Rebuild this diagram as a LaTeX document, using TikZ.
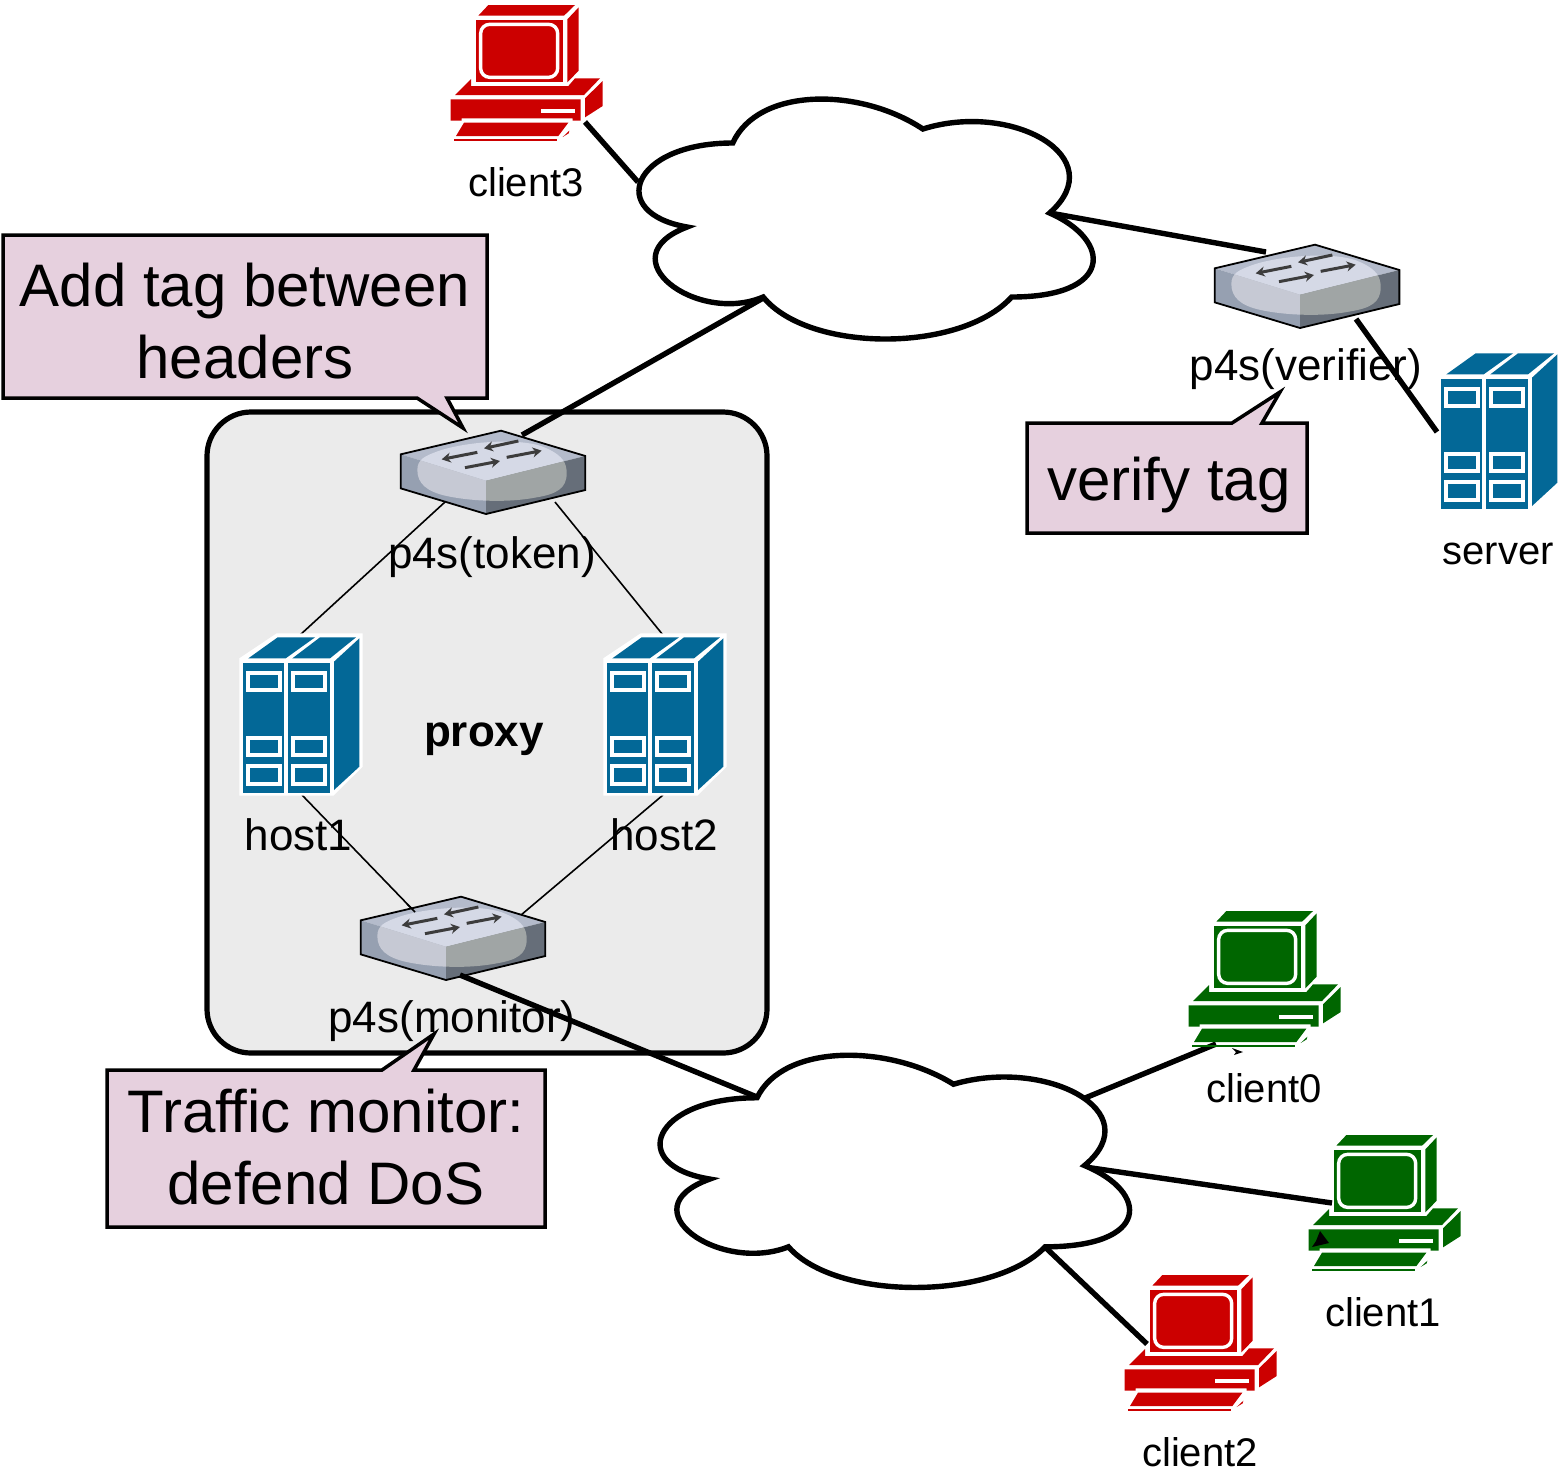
\documentclass[tikz,border=0pt]{standalone}
\usepackage{fontspec}
\setmainfont{Liberation Sans}
\usetikzlibrary{arrows.meta}
\definecolor{callout}{HTML}{E6D0DE}
\definecolor{proxybg}{HTML}{EBEBEB}
\definecolor{srvblue}{HTML}{036897}
\definecolor{pcred}{HTML}{CC0000}
\definecolor{pcgreen}{HTML}{006600}
\tikzset{
  thickline/.style={line width=2.7pt,black},
  thinline/.style={line width=0.8pt,black},
  calloutbox/.style={draw=black,fill=callout,line width=1.75pt,line join=miter},
  biglab/.style={anchor=base,inner sep=0pt,font=\fontsize{30}{36}\selectfont},
  midlab/.style={anchor=base,inner sep=0pt,font=\fontsize{22}{26}\selectfont},
  smalllab/.style={anchor=base,inner sep=0pt,font=\fontsize{20}{24}\selectfont},
  cloudshape/.style={draw=black,fill=white,line width=2.7pt,line join=miter},
  computer/.pic={
    \begin{scope}[x=0.16667pt,y=-0.16667pt]
      \fill[pccol] (145,15)--(405,15)--(372,47)--(115,47)--cycle;
      \fill[pccol] (416,22)--(416,212)--(382,247)--(382,58)--cycle;
      \fill[pccol] (107,60) rectangle (370,247);
      \draw[white,line width=1.7pt,rounded corners=4.5pt] (122,73) rectangle (353,232);
      \fill[pccol] (45,285)--(93,237)--(93,258)--(385,258)--(405,235)--(480,235)--(432,285)--cycle;
      \fill[pccol] (32,298)--(422,298)--(422,362)--(398,362)--(398,355)--(65,355)--(65,362)--(32,362)--cycle;
      \fill[white] (303,327) rectangle (405,340);
      \fill[pccol] (488,243)--(488,318)--(435,352)--(435,295)--cycle;
      \fill[pccol] (72,368)--(385,368)--(355,408)--(48,408)--cycle;
      \fill[pccol] (42,417)--(352,417)--(352,423)--(42,423)--cycle;
      \fill[pccol] (388,392)--(386,400)--(368,411)--cycle;
    \end{scope}
  },
  switchicon/.pic={
    \begin{scope}[x=0.16667pt,y=-0.16667pt]
      \def\blob{(82,150) .. controls (82,118) and (105,108) .. (140,95)
        .. controls (220,65) and (400,50) .. (470,85)
        .. controls (520,108) and (530,130) .. (530,160)
        .. controls (530,205) and (500,222) .. (440,232)
        .. controls (360,248) and (250,245) .. (170,228)
        .. controls (110,215) and (82,190) .. (82,150) -- cycle}
      \fill[fill=swtop] (32,103)--(333,32)--(586,108)--(288,182)--cycle;
      \fill[fill=swleft] (32,103)--(288,182)--(288,282)--(32,205)--cycle;
      \fill[fill=swright] (288,182)--(586,108)--(586,210)--(288,282)--cycle;
      \begin{scope}
        \clip (32,103)--(333,32)--(586,108)--(288,182)--cycle;
        \fill[swtopb] \blob;
      \end{scope}
      \begin{scope}
        \clip (32,103)--(288,182)--(288,282)--(32,205)--cycle;
        \fill[swleftb] \blob;
      \end{scope}
      \begin{scope}
        \clip (288,182)--(586,108)--(586,210)--(288,282)--cycle;
        \fill[swrightb] \blob;
      \end{scope}
      \draw[black,line width=0.9pt,line join=miter] (32,103)--(333,32)--(586,108)--(586,210)--(288,282)--(32,205)--cycle;
      \foreach \ax/\ay/\bx/\by in {385/63/282/85,262/97/155/118,225/143/330/123,350/112/455/92}
        \draw[swarrow,line width=1.5pt,-{Stealth[length=4.5pt,width=5pt]}] (\ax,\ay)--(\bx,\by);
    \end{scope}
  },
  servericon/.pic={
    \begin{scope}[x=0.16667pt,y=-0.16667pt]
      \fill[white] (28,100)--(140,25)--(398,25)--(398,425)--(310,512)--(28,512)--cycle;
      \fill[srvblue] (38,113) rectangle (162,503);
      \fill[srvblue] (174,113) rectangle (300,503);
      \fill[srvblue] (312,110)--(388,40)--(388,425)--(312,495)--cycle;
      \fill[srvblue] (55,100)--(143,37)--(255,37)--(167,100)--cycle;
      \fill[srvblue] (187,100)--(270,37)--(378,37)--(300,100)--cycle;
      \foreach \wx in {48,183}
        \foreach \wy in {138,333,418}
          \draw[white,line width=2pt] (\wx+6,\wy+6) rectangle (\wx+102,\wy+58);
    \end{scope}
  },
}
\definecolor{swtop}{HTML}{B4BBCB}
\definecolor{swleft}{HTML}{96A0B1}
\definecolor{swright}{HTML}{666E79}
\definecolor{swtopb}{HTML}{D5D9E6}
\definecolor{swleftb}{HTML}{C6C9D4}
\definecolor{swrightb}{HTML}{A0A5A5}
\definecolor{swarrow}{HTML}{3C3C3C}
\newcommand{\cloudpath}[4]{% x0 y0 w h
  (#1+0.25*#3,#2+0.25*#4)
  .. controls (#1+0.05*#3,#2+0.25*#4) and (#1,#2+0.5*#4) .. (#1+0.16*#3,#2+0.55*#4)
  .. controls (#1,#2+0.66*#4) and (#1+0.18*#3,#2+0.9*#4) .. (#1+0.31*#3,#2+0.8*#4)
  .. controls (#1+0.4*#3,#2+#4) and (#1+0.7*#3,#2+#4) .. (#1+0.8*#3,#2+0.8*#4)
  .. controls (#1+#3,#2+0.8*#4) and (#1+#3,#2+0.6*#4) .. (#1+0.875*#3,#2+0.5*#4)
  .. controls (#1+#3,#2+0.3*#4) and (#1+0.8*#3,#2+0.1*#4) .. (#1+0.625*#3,#2+0.2*#4)
  .. controls (#1+0.5*#3,#2+0.05*#4) and (#1+0.3*#3,#2+0.05*#4) .. (#1+0.25*#3,#2+0.25*#4) -- cycle}
\begin{document}
\begin{tikzpicture}[x=0.5pt,y=-0.5pt]
  \useasboundingbox (0,0) rectangle (1562,1474);
  \fill[white] (0,0) rectangle (1562,1474);

  % proxy group
  \draw[fill=proxybg,draw=black,line width=2.6pt,rounded corners=22pt] (207,412) rectangle (767,1053);

  % connector end points
  \coordinate (c3port) at (585,122);
  \coordinate (cl1w) at (638,182);
  \coordinate (cl1e) at (1050,213);
  \coordinate (verW) at (1266,252);
  \coordinate (verS) at (1356,319);
  \coordinate (srvW) at (1437,432);
  \coordinate (tokN) at (522,435);
  \coordinate (cl1s) at (765,297);
  \coordinate (tokSW) at (445,502);
  \coordinate (tokSE) at (555,502);
  \coordinate (h1N) at (300,635);
  \coordinate (h2N) at (663,635);
  \coordinate (h1S) at (302,795);
  \coordinate (h2S) at (663,795);
  \coordinate (monNW) at (415,912);
  \coordinate (monNE) at (521,915);
  \coordinate (monS) at (460,975);
  \coordinate (cl2w) at (757,1097);
  \coordinate (cl2ne) at (1085,1098);
  \coordinate (c0port) at (1216,1044);
  \coordinate (cl2e) at (1085,1167);
  \coordinate (c1port) at (1332,1203);
  \coordinate (cl2s) at (1045,1247);
  \coordinate (c2port) at (1147,1344);

  % lines behind the icons
  \draw[thickline] (c3port) -- (cl1w);
  \draw[thickline] (cl1e) -- (verW);
  \draw[thickline] (tokN) -- (cl1s);
  \draw[thinline] (tokSW) -- (h1N);
  \draw[thinline] (tokSE) -- (h2N);
  \draw[thinline] (h1S) -- (monNW);
  \draw[thinline] (h2S) -- (monNE);
  \draw[thickline] (cl2ne) -- (c0port);
  \draw[thickline] (cl2e) -- (c1port);
  \draw[thickline] (cl2s) -- (c2port);

  % clouds
  \draw[cloudshape] \cloudpath{606}{73}{507}{280};
  \draw[cloudshape] \cloudpath{626}{1030}{524}{271};

  % computers
  \colorlet{pccol}{pcred}
  \pic (pc3) at (440,0) {computer};
  \pic (pc2) at (1114,1270) {computer};
  \colorlet{pccol}{pcgreen}
  \pic (pc0) at (1178,906) {computer};
  \pic (pc1) at (1298,1130) {computer};

  % switches
  \pic (swtoken) at (390,420) {switchicon};
  \pic (swver) at (1204,234) {switchicon};
  \pic (swmon) at (350,886) {switchicon};

  % servers
  \pic (host1) at (230,625) {servericon};
  \pic (host2) at (594,625) {servericon};
  \pic (srv) at (1428,341) {servericon};

  % lines on top of the icons
  \draw[thickline] (verS) -- (srvW);
  \draw[thickline] (monS) -- (cl2w);
  \draw[thinline] (monNW) -- ++(-8,-8);

  % small stray arrowheads
  \fill[black] (1232,1048)--(1243,1052)--(1234,1055)--(1236,1052)--cycle;
  \fill[black] (1320,1231)--(1329,1243)--(1312,1247)--(1316,1241)--cycle;

  % callouts
  \draw[calloutbox] (3,235)--(487,235)--(487,398)--(447,398)--(463,428)--(417,398)--(3,398)--cycle;
  \draw[calloutbox] (1027,423)--(1232,423)--(1280,392)--(1262,423)--(1307,423)--(1307,533)--(1027,533)--cycle;
  \draw[calloutbox] (107,1070)--(382,1070)--(434,1034)--(414,1070)--(545,1070)--(545,1227)--(107,1227)--cycle;

  % labels
  \node[biglab] (t1a) at (245,306) {Add tag between};
  \node[biglab] (t1b) at (245,378) {headers};
  \node[biglab] (t2) at (1169,500) {verify tag};
  \node[biglab] (t3a) at (326,1132) {Traffic monitor:};
  \node[biglab] (t3b) at (326,1204) {defend DoS};

  \node[smalllab] (lc3) at (526,196) {client3};
  \node[smalllab] (lsrv) at (1498,564) {server};
  \node[smalllab] (lc0) at (1264,1102) {client0};
  \node[smalllab] (lc1) at (1383,1326) {client1};
  \node[smalllab] (lc2) at (1200,1466) {client2};

  \node[midlab] (lver) at (1306,380) {p4s(verifier)};
  \node[midlab] (ltok) at (492,568) {p4s(token)};
  \node[midlab] (lh1) at (298.5,850) {host1};
  \node[midlab] (lh2) at (664,850) {host2};
  \node[midlab,font=\fontsize{22}{26}\selectfont\bfseries] (lproxy) at (484,746) {proxy};
  \node[midlab] (lmon) at (452,1032) {p4s(monitor)};
\end{tikzpicture}
\end{document}
